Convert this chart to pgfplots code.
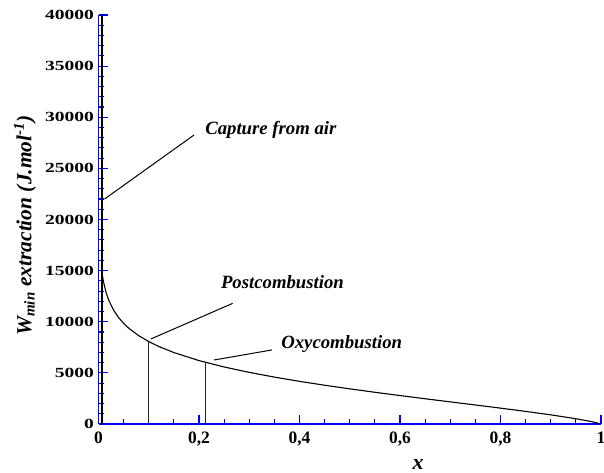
\documentclass[border=0pt]{standalone}
\usepackage{fontspec}
\setmainfont{Liberation Serif}
\newfontfamily\ytickfont[FakeStretch=1.4]{Liberation Serif}
\usepackage{pgfplots}
\pgfplotsset{compat=1.18}
\begin{document}
\begin{tikzpicture}[x=1bp,y=1bp]
\useasboundingbox (0,0) rectangle (604,473);
\begin{axis}[
  at={(98.5bp,49bp)}, anchor=south west,
  scale only axis, width=502.5bp, height=409bp,
  xmin=0, xmax=1, ymin=0, ymax=40000,
  axis lines=left,
  axis line style={-, blue, line width=1.2bp},
  tick style={blue, line width=1.1bp},
  tick align=inside,
  major tick length=9bp, minor tick length=5bp,
  xtick={0,0.2,0.4,0.6,0.8,1},
  xticklabels={0,{0,2},{0,4},{0,6},{0,8},1},
  minor x tick num=3,
  ytick={0,5000,10000,15000,20000,25000,30000,35000,40000},
  yticklabels={0,5000,10000,15000,20000,25000,30000,35000,40000},
  minor y tick num=4,
  scaled y ticks=false,
  xticklabel style={font=\bfseries\fontsize{17.5}{18}\selectfont, yshift=-4.5bp},
  yticklabel style={font=\ytickfont\bfseries\fontsize{14}{15}\selectfont, xshift=-1bp},
  xlabel={x},
  xlabel style={font=\bfseries\itshape\fontsize{22}{24}\selectfont, at={(axis description cs:0.636,0)}, anchor=center, yshift=-40bp},
  ylabel={W\textsubscript{min} extraction (J.mol\textsuperscript{-1})},
  ylabel style={font=\bfseries\itshape\fontsize{21.5}{24}\selectfont, at={(axis description cs:-0.1463,0.485)}, anchor=center},
  clip=false,
]
% main curve
\addplot[black, line width=1.1bp] coordinates {
 (0.007,14770) (0.01,13883) (0.015,12872) (0.02,12152) (0.03,11135)
 (0.04,10408) (0.05,9843) (0.06,9377) (0.08,8639) (0.1,8060)
 (0.12,7580) (0.15,6986) (0.2,6202) (0.25,5576) (0.3,5048)
 (0.35,4586) (0.4,4171) (0.45,3791) (0.5,3437) (0.55,3102)
 (0.6,2781) (0.65,2469) (0.7,2163) (0.75,1859) (0.8,1551)
 (0.85,1233) (0.9,895) (0.95,518) (0.98,248) (0.995,60)
};
% steep part near x = 0
\addplot[black, line width=1.1bp] coordinates {(0.007,0) (0.007,40000)};
% marker lines
\addplot[black!85, line width=1bp] coordinates {(0.1,0) (0.1,8060)};
\addplot[black!85, line width=1bp] coordinates {(0.213,0) (0.213,6030)};
% leader lines
\addplot[black, line width=1bp] coordinates {(0.012,22000) (0.19,28260)};
\addplot[black, line width=1bp] coordinates {(0.104,8310) (0.267,11800)};
\addplot[black, line width=1bp] coordinates {(0.23,6260) (0.345,7240)};
\node[anchor=base, font=\bfseries\itshape\fontsize{18.8}{20}\selectfont] at (axis cs:0.343,28264) {Capture from air};
\node[anchor=base, font=\bfseries\itshape\fontsize{18.8}{20}\selectfont] at (axis cs:0.366,13300) {Postcombustion};
\node[anchor=base, font=\bfseries\itshape\fontsize{18.8}{20}\selectfont] at (axis cs:0.484,7335) {Oxycombustion};
\end{axis}
\end{tikzpicture}
\end{document}
